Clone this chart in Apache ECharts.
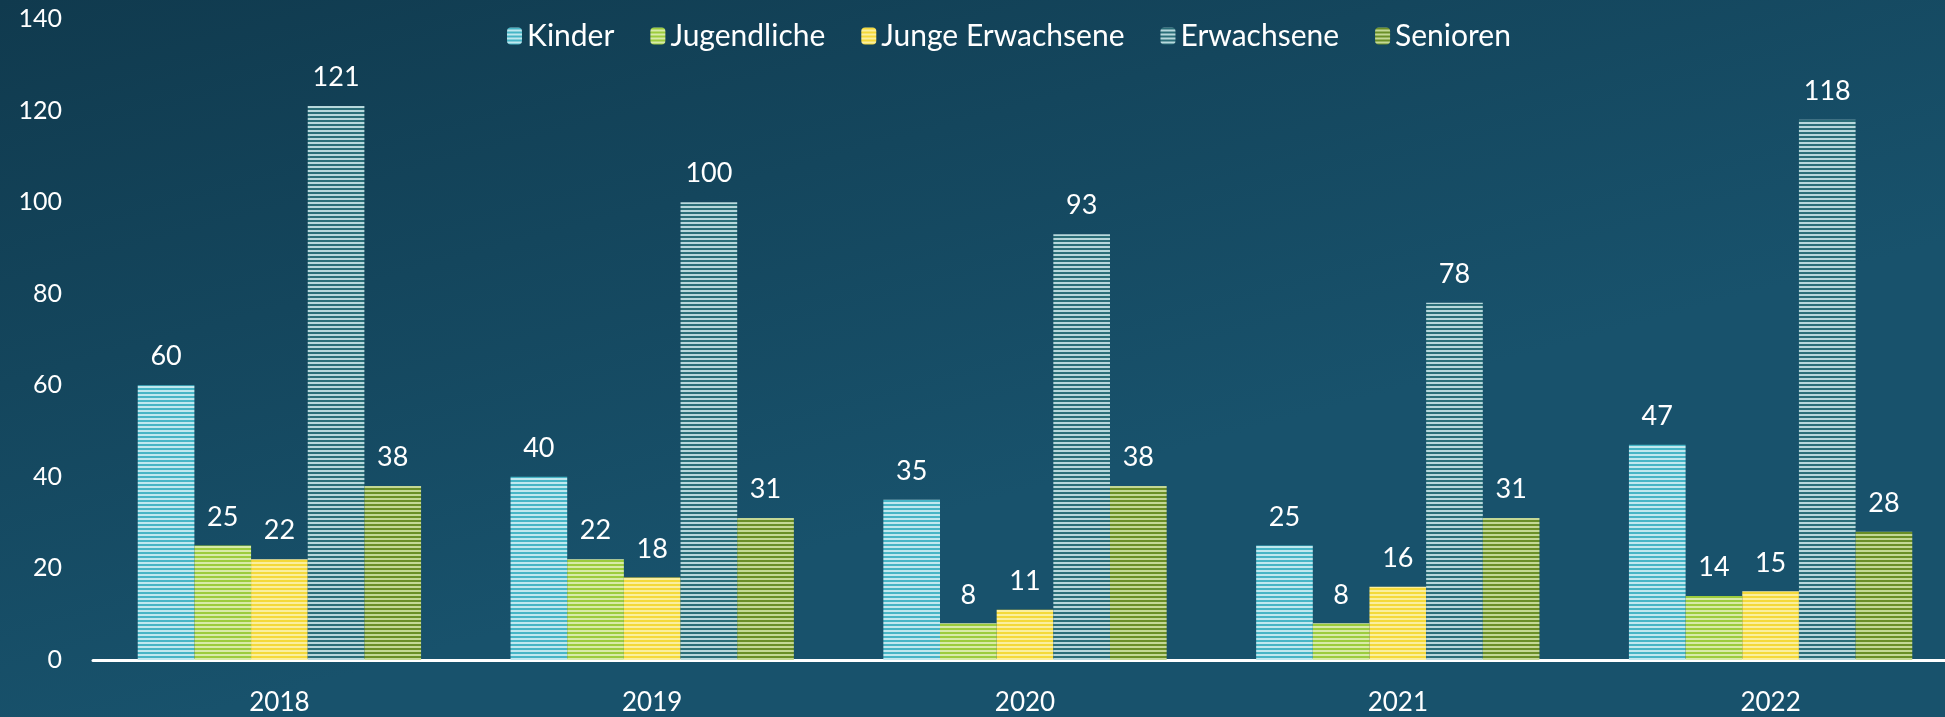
<!DOCTYPE html>
<html>
<head>
<meta charset="utf-8">
<script src="https://cdn.jsdelivr.net/npm/echarts@6/dist/echarts.min.js"></script>
<style>
  html, body { margin: 0; padding: 0; }
  #chart { width: 1945px; height: 717px; }
</style>
</head>
<body>
<div id="chart"></div>
<script>
  // data
  var years = ['2018', '2019', '2020', '2021', '2022'];
  var kinder = [60, 40, 35, 25, 47];
  var jugendliche = [25, 22, 8, 8, 14];
  var jungeErwachsene = [22, 18, 11, 16, 15];
  var erwachsene = [121, 100, 93, 78, 118];
  var senioren = [38, 31, 38, 31, 28];
  var yTicks = [0, 20, 40, 60, 80, 100, 120, 140];

  // striped fill: base colour with light horizontal lines
  function stripes(dark, light) {
    var c = document.createElement('canvas');
    c.width = 4;
    c.height = 4;
    var ctx = c.getContext('2d');
    ctx.fillStyle = dark;
    ctx.fillRect(0, 0, 4, 4);
    ctx.fillStyle = light;
    ctx.fillRect(0, 2, 4, 2);
    return { image: c, repeat: 'repeat' };
  }

  var labelFont = 'Lato, "Open Sans", sans-serif';

  function bar(name, data, dark, light) {
    return {
      name: name,
      type: 'bar',
      data: data,
      barGap: '0%',
      barCategoryGap: '24%',
      itemStyle: { color: stripes(dark, light) },
      label: {
        show: true,
        position: 'top',
        distance: 15,
        color: '#ffffff',
        fontSize: 27,
        fontFamily: labelFont
      }
    };
  }

  var chart = echarts.init(document.getElementById('chart'));
  chart.setOption({
    animation: false,
    backgroundColor: {
      type: 'linear', x: 0, y: 0, x2: 0.1, y2: 1,
      colorStops: [
        { offset: 0, color: '#103a4e' },
        { offset: 1, color: '#18526c' }
      ]
    },
    legend: {
      top: 16,
      left: 502,
      itemWidth: 15,
      itemHeight: 17,
      itemGap: 36,
      textStyle: { color: '#ffffff', fontSize: 30, fontFamily: labelFont }
    },
    grid: { left: 93, width: 1864, top: 19, bottom: 57, outerBoundsMode: 'none' },
    xAxis: {
      type: 'category',
      data: years,
      axisLine: { lineStyle: { color: '#ffffff', width: 3 } },
      axisTick: { show: false },
      axisLabel: { color: '#ffffff', fontSize: 26, margin: 30, fontFamily: labelFont }
    },
    yAxis: {
      type: 'value',
      min: yTicks[0],
      max: yTicks[yTicks.length - 1],
      interval: 20,
      axisLine: { show: false },
      axisTick: { show: false },
      splitLine: { show: false },
      axisLabel: { color: '#ffffff', fontSize: 25, margin: 31, fontFamily: labelFont }
    },
    series: [
      bar('Kinder', kinder, '#47b5c6', '#c0e8ef'),
      bar('Jugendliche', jugendliche, '#9ccc3d', '#d8eba8'),
      bar('Junge Erwachsene', jungeErwachsene, '#f4d93a', '#fbef9e'),
      bar('Erwachsene', erwachsene, '#2b6e78', '#b8d8dc'),
      bar('Senioren', senioren, '#6a8e27', '#c4d895')
    ]
  });
</script>
</body>
</html>
